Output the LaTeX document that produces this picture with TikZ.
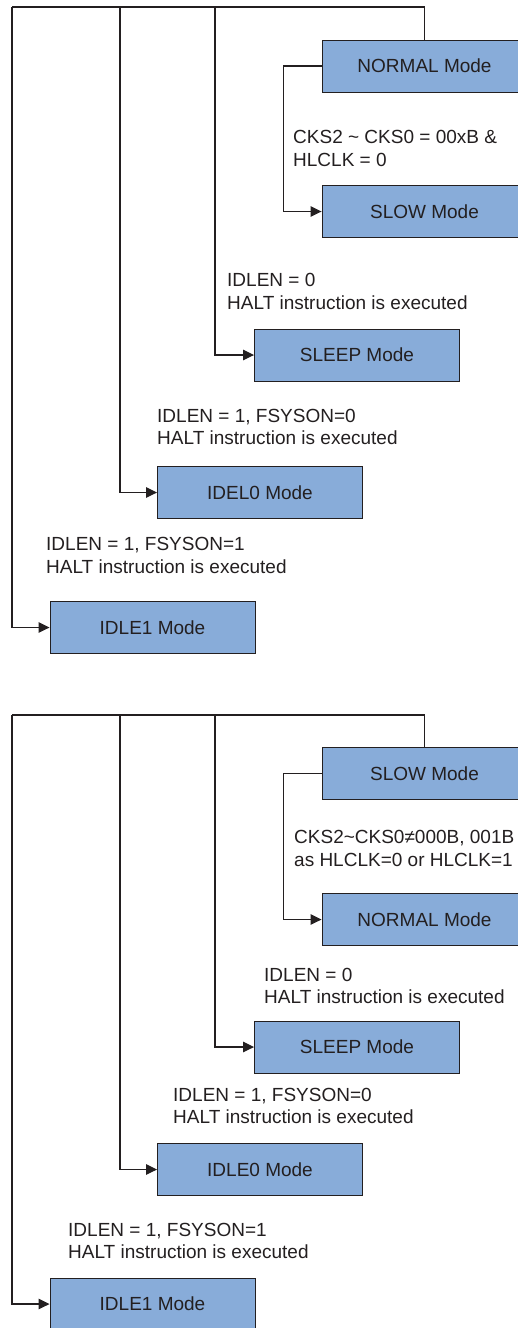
\documentclass[tikz,border=0pt]{standalone}
\usepackage{fontspec}
\setmainfont{Liberation Sans}
\usetikzlibrary{arrows.meta, positioning}
\definecolor{modefill}{RGB}{136,172,217}
\definecolor{linecolor}{RGB}{35,31,32}

\begin{document}
\begin{tikzpicture}[
    x=1pt, y=-1pt,
    box/.style={draw=linecolor, line width=0.9pt, fill=modefill, minimum width=205pt, minimum height=52pt, inner sep=0pt, font=\fontsize{19}{22}\selectfont, text=linecolor},
    cond/.style={anchor=base west, inner sep=0pt, align=left, font=\fontsize{19}{22.5}\selectfont, text=linecolor},
    wire/.style={draw=linecolor, line width=1.2pt},
    arrow/.style={wire, -{Triangle[length=11pt, width=10.5pt]}}
]
    \useasboundingbox (0,0) rectangle (518,1328);

    \node[box] (normA) at (424.5,66) {NORMAL Mode};
    \node[box] (slowA) at (424.5,211.5) {SLOW Mode};
    \node[box] (sleepA) at (357,355) {SLEEP Mode};
    \node[box] (idelA) at (260,492.5) {IDEL0 Mode};
    \node[box] (idleA) at (152.5,627.5) {IDLE1 Mode};

    \coordinate (cornA) at (12,7);
    \coordinate (forkA1) at (120,7);
    \coordinate (forkA2) at (215,7);

    \draw[wire] (cornA) -- (cornA -| normA.north) -- (normA.north);
    \draw[arrow] (normA.west) -- ++(-38,0) |- (slowA.west);
    \draw[arrow] (forkA2) |- (sleepA.west);
    \draw[arrow] (forkA1) |- (idelA.west);
    \draw[arrow] (cornA) |- (idleA.west);

    \node[cond] (condA1) at (293,166) {CKS2 \textasciitilde{} CKS0 = 00xB \&\\HLCLK = 0};
    \node[cond] (condA2) at (227,309) {IDLEN = 0\\HALT instruction is executed};
    \node[cond] (condA3) at (157,444.5) {IDLEN = 1, FSYSON=0\\HALT instruction is executed};
    \node[cond] (condA4) at (46,573) {IDLEN = 1, FSYSON=1\\HALT instruction is executed};

    \node[box] (slowB) at (424.5,773.5) {SLOW Mode};
    \node[box] (normB) at (424.5,919.5) {NORMAL Mode};
    \node[box] (sleepB) at (357,1047) {SLEEP Mode};
    \node[box] (idleB0) at (260,1169.5) {IDLE0 Mode};
    \node[box] (idleB1) at (152.5,1304) {IDLE1 Mode};

    \coordinate (cornB) at (12,715);
    \coordinate (forkB1) at (120,715);
    \coordinate (forkB2) at (215,715);

    \draw[wire] (cornB) -- (cornB -| slowB.north) -- (slowB.north);
    \draw[arrow] (slowB.west) -- ++(-38,0) |- (normB.west);
    \draw[arrow] (forkB2) |- (sleepB.west);
    \draw[arrow] (forkB1) |- (idleB0.west);
    \draw[arrow] (cornB) |- (idleB1.west);

    \node[cond] (condB1) at (294,866) {CKS2\textasciitilde CKS0≠000B, 001B\\as HLCLK=0 or HLCLK=1};
    \node[cond] (condB2) at (264,1003.5) {IDLEN = 0\\HALT instruction is executed};
    \node[cond] (condB3) at (173,1123.5) {IDLEN = 1, FSYSON=0\\HALT instruction is executed};
    \node[cond] (condB4) at (68,1258.5) {IDLEN = 1, FSYSON=1\\HALT instruction is executed};
\end{tikzpicture}
\end{document}
